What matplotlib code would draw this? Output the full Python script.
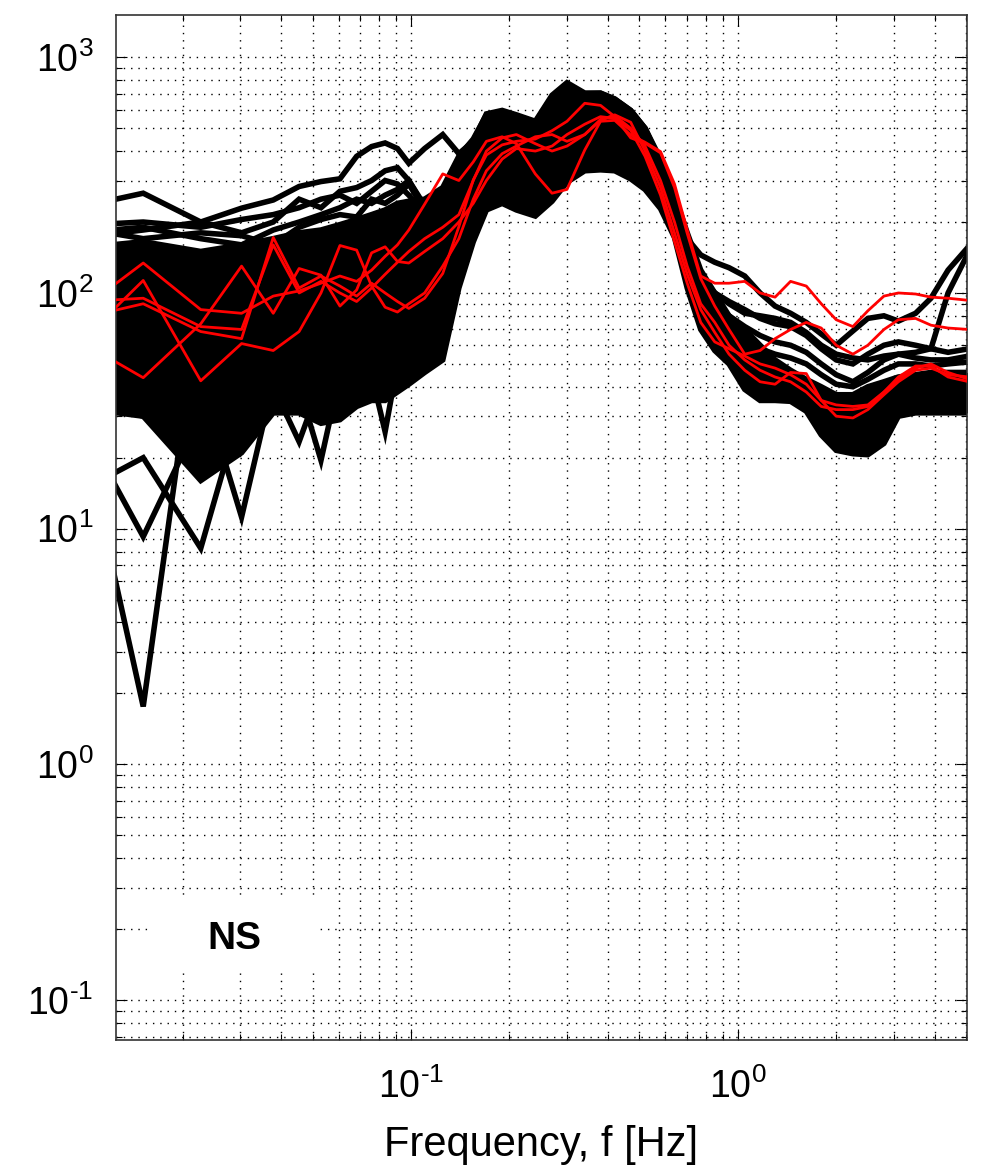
import numpy as np
import matplotlib
matplotlib.use("Agg")
import matplotlib.pyplot as plt
from matplotlib.patches import Rectangle
from matplotlib.ticker import FuncFormatter

# frequency grid [Hz]; low end follows the df = 0.00757 Hz spacing of the spectra
freq = [0.00757, 0.01514, 0.02271, 0.03028, 0.03785, 0.04542, 0.05299, 0.06056, 0.06813,
        0.0757, 0.08327, 0.09084, 0.0984,
        0.11, 0.125, 0.14, 0.155, 0.17, 0.19, 0.21, 0.24, 0.27, 0.3, 0.34, 0.38, 0.42, 0.47,
        0.52, 0.58, 0.64, 0.7, 0.77, 0.85, 0.94, 1.05, 1.17, 1.3, 1.45, 1.62, 1.8, 2.0, 2.25,
        2.5, 2.8, 3.1, 3.5, 3.9, 4.4, 5.1]
freq_low = freq[:14]
freq_high = freq[28:]

# dense bundle of black spectra (lower / upper edge)
core_lo = [34, 30, 16, 21, 31, 31, 28, 29, 33, 35, 35, 38, 41,
           46, 52, 105, 165, 225, 240, 225, 212, 245, 295, 330, 333, 330, 305, 275, 228, 172,
           105, 70, 57, 50, 39, 35, 35, 34.7, 31.5, 25, 21.5, 20.8, 20.6, 23, 30, 31, 31, 31, 31]
core_hi = [150, 165, 150, 160, 170, 180, 185, 195, 205, 215, 225, 240, 245,
           250, 280, 380, 450, 570, 590, 565, 530, 680, 770, 700, 703, 665, 595, 500, 370, 260,
           180, 125, 100, 80, 70, 60, 52, 47, 43, 40, 37, 37, 40, 42, 44, 45, 46, 46, 46]

# individual black spectra, full range
blk_top = [215, 265, 200, 229, 248, 283, 297, 305, 380, 418, 433, 410, 355,
           410, 470, 390, 440, 575, 595, 570, 535, 690, 780, 705, 705, 665, 595, 500, 360, 250,
           170, 145, 135, 128, 118, 100, 88, 82, 75, 67, 60, 69, 78, 80, 76, 82, 95, 125, 158]

# black spectra, high-frequency part
blk_h1 = [300, 210, 150, 118, 100, 90, 82, 80, 78, 75, 68, 60, 55, 53, 52, 54, 55, 56, 58, 100, 150]
blk_h2 = [280, 200, 140, 110, 100, 92, 85, 78, 74, 72, 66, 58, 52, 50, 55, 60, 62, 60, 58, 56, 58]
blk_h3 = [260, 190, 130, 100, 88, 80, 72, 66, 62, 60, 56, 50, 45, 42, 46, 52, 55, 53, 52, 52, 54]
blk_h4 = [250, 180, 120, 90, 78, 68, 62, 58, 55, 53, 50, 45, 41, 40, 43, 47, 50, 50, 49, 50, 51]

# black spectra, low-frequency part
blk_l1 = [137, 1.76, 100, 60, 50, 55, 60, 65, 70, 70, 75, 80, 90, 100]
blk_l2 = [54, 9.25, 30, 35, 45, 50, 48, 55, 60, 58, 65, 70, 75, 80]
blk_l3 = [12, 20, 8.26, 33, 40, 45, 50, 52, 55, 60, 62, 66, 70, 75]
blk_l4 = [40, 30, 42, 11.2, 42, 40, 45, 50, 55, 55, 60, 65, 70, 75]
blk_l5 = [45, 40, 35, 38, 40, 23.4, 42, 48, 50, 55, 58, 62, 66, 72]
blk_l6 = [50, 45, 40, 42, 45, 40, 19.5, 45, 50, 52, 56, 60, 64, 70]
blk_l7 = [55, 50, 45, 48, 50, 52, 48, 50, 55, 45, 25.8, 50, 60, 70]
blk_l8 = [190, 200, 190, 205, 215, 230, 250, 260, 240, 270, 300, 290, 260, 220]
blk_l9 = [175, 190, 170, 160, 185, 200, 215, 230, 250, 240, 260, 275, 300, 230]
blk_l10 = [165, 185, 200, 180, 200, 250, 230, 270, 280, 300, 330, 340, 300, 235]
blk_l11 = [200, 170, 180, 175, 160, 190, 205, 215, 210, 250, 240, 260, 290, 225]

# red spectra
red_a = [65, 134, 85, 82, 97, 102, 110, 118, 112, 125, 143, 160, 185,
         238, 320, 300, 360, 440, 460, 430, 320, 265, 275, 404, 535, 540, 468, 436, 398, 290,
         185, 118, 110, 110, 112, 100, 96, 112, 107, 90, 77, 72, 84, 97, 100, 99, 96, 95, 93]
red_b = [72, 90, 68.6, 64, 172, 105, 118, 107, 97, 110, 100, 92, 86,
         95, 121, 191, 302, 385, 425, 440, 450, 488, 535, 638, 625, 560, 455, 432, 393, 280,
         179, 115, 88, 70, 55, 57, 64, 70, 75, 71, 60, 55, 60, 70, 77, 78, 73, 71, 70]
red_c = [44, 113, 42.4, 61, 57, 68.6, 100, 159, 152, 107, 87, 83, 90,
         100, 130, 170, 250, 330, 390, 420, 460, 470, 440, 470, 540, 570, 530, 400, 280, 180,
         120, 85, 68, 55, 47, 42, 41, 46, 45.5, 35, 30, 29.5, 32, 37, 42, 47, 48, 45, 44]
red_d = [76, 43.7, 74, 130, 82, 127, 119, 88, 103, 148, 157, 136, 134,
         150, 170, 200, 240, 300, 370, 410, 400, 420, 470, 520, 560, 550, 490, 380, 260, 165,
         110, 75, 62, 58, 54, 50, 48, 45, 41, 35, 33.5, 33, 33.5, 38, 43, 48, 50, 46, 43]
red_e = [90, 95, 72, 70, 160, 100, 112, 100, 92, 105, 120, 135, 150,
         170, 190, 215, 300, 400, 455, 470, 430, 400, 420, 470, 545, 565, 500, 420, 300, 200,
         130, 90, 75, 60, 52, 47, 44, 42, 38, 33, 32, 32, 33, 38, 44, 49, 49, 44, 42]

plt.rcParams['font.family'] = ['Liberation Sans', 'DejaVu Sans']
plt.rcParams['mathtext.fontset'] = 'custom'
plt.rcParams['mathtext.rm'] = 'Liberation Sans'

fig = plt.figure(figsize=(9.99, 11.74), dpi=100)
ax = fig.add_axes([0.1158, 0.1139, 0.8525, 0.8733])

blk = dict(color='k', lw=4, solid_joinstyle='miter', zorder=2)
ax.fill_between(freq, core_lo, core_hi, color='k', lw=0, zorder=2)
for s in [core_lo, core_hi, blk_top]:
    ax.plot(freq, s, **blk)
for s in [blk_h1, blk_h2, blk_h3, blk_h4]:
    ax.plot(freq_high, s, **blk)
for s in [blk_l1, blk_l2, blk_l3, blk_l4, blk_l5, blk_l6, blk_l7,
          blk_l8, blk_l9, blk_l10, blk_l11]:
    ax.plot(freq_low, s, **blk)

for s in [red_a, red_b, red_c, red_d, red_e]:
    ax.plot(freq, s, color='r', lw=2, zorder=3)

ax.set_xscale('log')
ax.set_yscale('log')
ax.set_xlim(0.01247, 5.04)
ax.set_ylim(0.0675, 1511)


def pow10(v, pos):
    e = int(round(np.log10(v)))
    es = ('\u2010%d' % -e) if e < 0 else '%d' % e
    return r'$\mathregular{10^{%s}}$' % es


ax.xaxis.set_major_formatter(FuncFormatter(pow10))
ax.yaxis.set_major_formatter(FuncFormatter(pow10))

ax.set_axisbelow(True)
ax.grid(True, which='both', color='k', linestyle=(0, (1, 4.25)), lw=1.0)
ax.tick_params(which='both', direction='in', top=True, right=True, labelsize=27, width=0.8)
ax.tick_params(axis='y', which='major', pad=16)
ax.tick_params(axis='x', which='major', pad=20)
ax.tick_params(which='major', length=8)
ax.tick_params(which='minor', length=4)
for sp in ax.spines.values():
    sp.set_color('#333333')
    sp.set_linewidth(1.2)

ax.set_xlabel('Frequency, f [Hz]', fontsize=30, labelpad=14)

# white patch behind the component label
ax.add_patch(Rectangle((0.0403, 0.0656), 0.1997, 0.0712, transform=ax.transAxes,
                       facecolor='white', edgecolor='none', zorder=1))
ax.text(0.0287, 0.1815, 'NS', fontsize=28, fontweight='bold', ha='center', va='center', zorder=5)

fig.savefig('out.png', dpi=100)
